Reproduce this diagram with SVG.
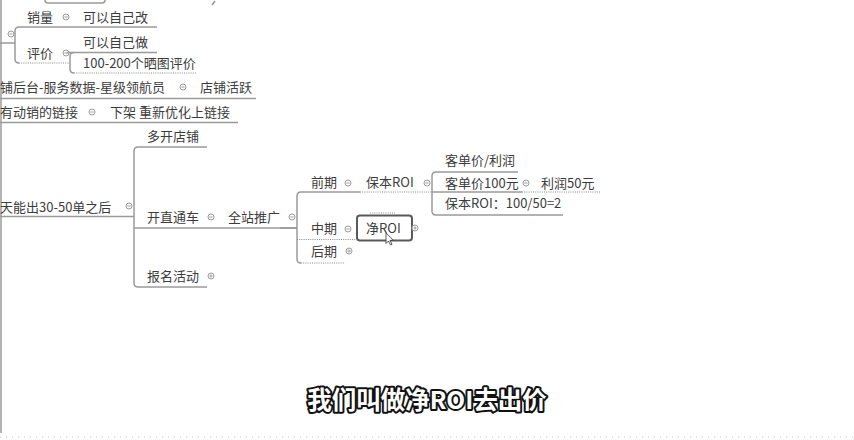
<svg xmlns="http://www.w3.org/2000/svg" xmlns:xlink="http://www.w3.org/1999/xlink" width="854" height="440" viewBox="0 0 854 440">
  <style>
    .t { font-family: "Noto Sans CJK SC", "Liberation Sans", sans-serif; font-size: 13px; fill: #3c3c3c; }
    .ln { fill: none; stroke: #9a9a9a; stroke-width: 1.5; }
    .dot { fill: none; stroke: #8a8a8a; stroke-width: 1.2; stroke-dasharray: 1 1.2; }
    .sub { font-family: "Noto Sans CJK SC", sans-serif; font-size: 24.5px; font-weight: bold; fill: #ffffff; stroke: #111111; stroke-width: 4; stroke-linejoin: round; paint-order: stroke fill; }
  </style>
  <defs>
    <g id="fold">
      <circle r="3" fill="#ffffff" stroke="#9a9a9a" stroke-width="1"/>
      <line x1="-1.6" y1="0" x2="1.6" y2="0" stroke="#9a9a9a" stroke-width="1"/>
    </g>
    <g id="unfold">
      <circle r="3" fill="#ffffff" stroke="#9a9a9a" stroke-width="1"/>
      <line x1="-1.6" y1="0" x2="1.6" y2="0" stroke="#9a9a9a" stroke-width="1"/>
      <line x1="0" y1="-1.6" x2="0" y2="1.6" stroke="#9a9a9a" stroke-width="1"/>
    </g>
  </defs>

  <rect width="854" height="440" fill="#ffffff"/>

  <!-- canvas edges -->
  <line x1="1" y1="0" x2="1" y2="433" stroke="#b4b4b4" stroke-width="2"/>
  <line x1="0" y1="437" x2="854" y2="437" stroke="#c4c4c4" stroke-width="1.2" stroke-dasharray="1 5"/>

  <!-- connectors -->
  <g id="connectors">
    <path class="ln" d="M45,0 Q45,3 48,3 L102,3 Q105,3 105,0"/>
    <path class="ln" d="M212,5 L215,1"/>
    <!-- sales / reviews branch -->
    <path class="ln" d="M0,43 L15,43"/>
    <path class="ln" d="M19,27 Q15,27 15,31 L15,59 Q15,63 19,63"/>
    <!-- reviews children -->
    <path class="ln" d="M74,52.5 Q70,52.5 70,56.5 L70,69 Q70,73 74,73"/>
    <!-- after 30-50 orders -->
    <path class="ln" d="M138,147 Q134,147 134,151 L134,283 Q134,287 138,287"/>
    <!-- full-site promotion phases -->
    <path class="ln" d="M280,228 L297,228"/>
    <path class="ln" d="M301,192 Q297,192 297,196 L297,259 Q297,263 301,263"/>
    <!-- break-even ROI children -->
    <path class="ln" d="M436,172 Q432,172 432,176 L432,211 Q432,215 436,215"/>
  </g>

  <g id="n-sales">
    <text class="t" x="27" y="22">销量</text>
    <use xlink:href="#fold" x="66" y="17"/>
    <path class="ln" d="M19,27 L157,27"/>
  </g>
  <g id="n-edit">
    <text class="t" x="83" y="22">可以自己改</text>
  </g>
  <use xlink:href="#fold" x="11" y="34"/>
  <g id="n-review">
    <text class="t" x="27" y="58">评价</text>
    <use xlink:href="#fold" x="66" y="53"/>
    <path class="dot" d="M19,63 L70,63"/>
  </g>
  <g id="n-do">
    <text class="t" x="83" y="47">可以自己做</text>
    <path class="ln" d="M67,52.5 L157,52.5"/>
  </g>
  <g id="n-photo">
    <text class="t" x="83" y="68">100-200个晒图评价</text>
    <path class="dot" d="M74,73 L197,73"/>
  </g>

  <g id="n-backend">
    <text class="t" x="0" y="92">铺后台-服务数据-星级领航员</text>
    <use xlink:href="#fold" x="183" y="87"/>
    <text class="t" x="200" y="92">店铺活跃</text>
    <path class="ln" d="M0,98.5 L256,98.5"/>
  </g>
  <g id="n-links">
    <text class="t" x="0" y="117">有动销的链接</text>
    <use xlink:href="#fold" x="92" y="112"/>
    <text class="t" x="110" y="117">下架 重新优化上链接</text>
    <path class="ln" d="M0,122.5 L238,122.5"/>
  </g>

  <g id="n-after">
    <text class="t" x="0" y="212">天能出30-50单之后</text>
    <use xlink:href="#fold" x="129" y="206"/>
    <path class="ln" d="M0,216.5 L134,216.5"/>
  </g>
  <g id="n-stores">
    <text class="t" x="147" y="141">多开店铺</text>
    <path class="ln" d="M138,147 L207,147"/>
  </g>
  <g id="n-train">
    <text class="t" x="147" y="222">开直通车</text>
    <use xlink:href="#fold" x="211" y="217"/>
    <path class="ln" d="M134,228 L228,228"/>
  </g>
  <g id="n-fullsite">
    <text class="t" x="228" y="222">全站推广</text>
    <use xlink:href="#fold" x="292" y="217"/>
    <path class="ln" d="M228,228 L297,228"/>
  </g>
  <g id="n-events">
    <text class="t" x="147" y="281">报名活动</text>
    <use xlink:href="#unfold" x="211" y="276"/>
    <path class="ln" d="M138,287 L207,287"/>
  </g>

  <g id="n-early">
    <text class="t" x="311" y="187">前期</text>
    <use xlink:href="#fold" x="348" y="183"/>
    <path class="ln" d="M301,192 L360,192"/>
  </g>
  <g id="n-breakeven">
    <text class="t" x="366" y="187">保本ROI</text>
    <use xlink:href="#fold" x="427" y="183"/>
    <path class="dot" d="M360,192 L432,192"/>
  </g>
  <g id="n-unitprofit">
    <text class="t" x="445" y="165">客单价/利润</text>
    <path class="ln" d="M436,172 L518,172"/>
  </g>
  <g id="n-unit100">
    <text class="t" x="445" y="188">客单价100元</text>
    <use xlink:href="#fold" x="526" y="183"/>
    <path class="ln" d="M432,192 L522,192"/>
  </g>
  <g id="n-profit50">
    <text class="t" x="541" y="188">利润50元</text>
    <path class="dot" d="M522,192 L600,192"/>
  </g>
  <g id="n-roicalc">
    <text class="t" x="445" y="208">保本ROI：100/50=2</text>
    <path class="ln" d="M436,215 L563,215"/>
  </g>

  <g id="n-mid">
    <text class="t" x="311" y="233">中期</text>
    <use xlink:href="#fold" x="348" y="229"/>
    <path class="dot" d="M297,239.5 L356,239.5"/>
  </g>
  <g id="n-netroi">
    <path class="dot" d="M370,213 L395,213"/>
    <rect x="357" y="215.5" width="55" height="25" rx="3" fill="#ffffff" stroke="#5a5a5a" stroke-width="2"/>
    <text class="t" x="366" y="233">净ROI</text>
    <use xlink:href="#unfold" x="415" y="228"/>
  </g>
  <g id="n-late">
    <text class="t" x="311" y="256">后期</text>
    <use xlink:href="#unfold" x="349" y="251"/>
    <path class="dot" d="M301,263 L345,263"/>
  </g>

  <!-- pointer -->
  <path d="M386,233 L386,243.5 L388.5,241 L390.5,245 L392,244.3 L390,240.3 L393.5,240.3 Z" fill="#ffffff" stroke="#333333" stroke-width="0.8" stroke-linejoin="round"/>

  <!-- caption -->
  <text class="sub" x="427" y="409" text-anchor="middle">我们叫做净ROI去出价</text>
</svg>
